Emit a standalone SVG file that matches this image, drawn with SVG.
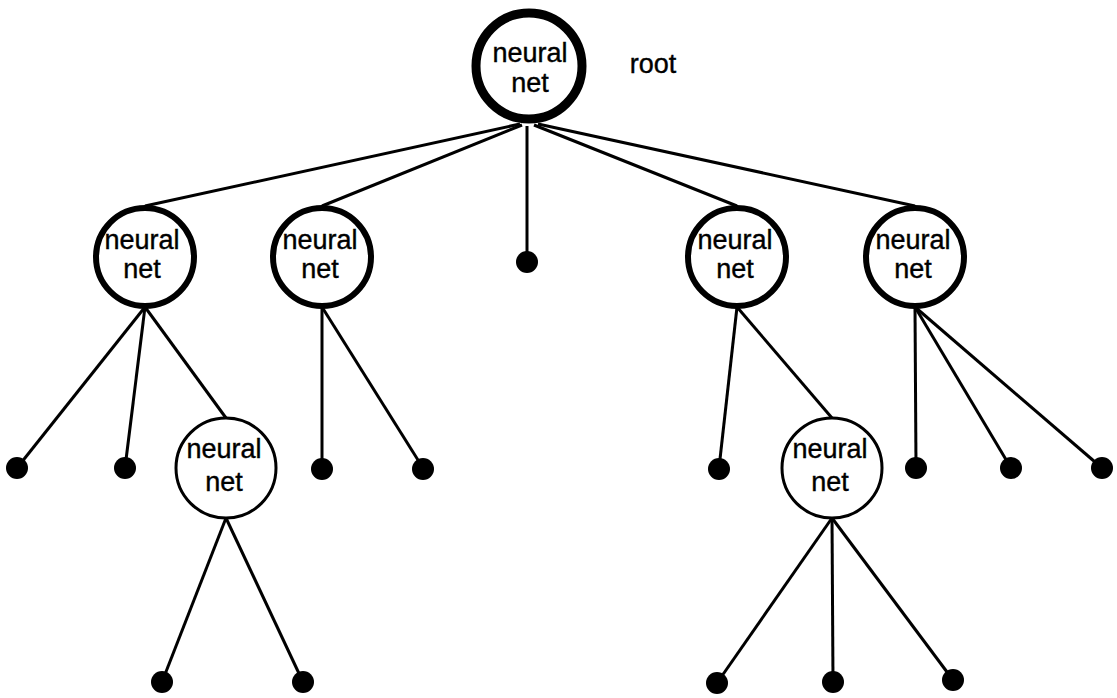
<svg xmlns="http://www.w3.org/2000/svg" width="1117" height="698" viewBox="0 0 1117 698">
  <style>
    .edge { stroke: #000; stroke-width: 3; fill: none; }
    .net { fill: #fff; stroke: #000; }
    .n0 { stroke-width: 9; }
    .n1 { stroke-width: 6; }
    .n2 { stroke-width: 3; }
    .leaf { fill: #000; }
    text { font-family: "Liberation Sans", Arial, sans-serif; font-size: 27px; fill: #000; stroke: #000; stroke-width: 0.4; text-anchor: middle; }
  </style>
  <rect width="1117" height="698" fill="#fff"/>
  <g id="connectors">
    <!-- root to children -->
    <line class="edge" x1="520" y1="124" x2="145" y2="206"/>
    <line class="edge" x1="522" y1="125" x2="322" y2="206"/>
    <line class="edge" x1="527" y1="126" x2="527" y2="262"/>
    <line class="edge" x1="534" y1="125" x2="737" y2="206"/>
    <line class="edge" x1="538" y1="124" x2="915" y2="206"/>
    <!-- first-level subtrees -->
    <line class="edge" x1="145" y1="307" x2="17" y2="468"/>
    <line class="edge" x1="145" y1="307" x2="125" y2="468"/>
    <line class="edge" x1="145" y1="307" x2="226" y2="418"/>
    <line class="edge" x1="322" y1="307" x2="322" y2="468"/>
    <line class="edge" x1="322" y1="307" x2="423" y2="468"/>
    <line class="edge" x1="737" y1="307" x2="719" y2="468"/>
    <line class="edge" x1="737" y1="307" x2="832" y2="418"/>
    <line class="edge" x1="915" y1="307" x2="916" y2="468"/>
    <line class="edge" x1="915" y1="307" x2="1011" y2="468"/>
    <line class="edge" x1="915" y1="307" x2="1102" y2="468"/>
    <!-- second-level subtrees -->
    <line class="edge" x1="226" y1="518" x2="162" y2="682"/>
    <line class="edge" x1="226" y1="518" x2="303" y2="682"/>
    <line class="edge" x1="832" y1="518" x2="717" y2="683"/>
    <line class="edge" x1="832" y1="518" x2="833" y2="682"/>
    <line class="edge" x1="832" y1="518" x2="953" y2="680"/>
  </g>
  <g id="root">
    <circle class="net n0" cx="529" cy="66" r="53"/>
    <text x="530" y="62">neural</text>
    <text x="530" y="92">net</text>
    <text x="653" y="73">root</text>
  </g>
  <g id="net-a">
    <circle class="net n1" cx="145" cy="257" r="49"/>
    <text x="142" y="249">neural</text>
    <text x="142" y="278">net</text>
  </g>
  <g id="net-b">
    <circle class="net n1" cx="322" cy="257" r="49"/>
    <text x="320" y="249">neural</text>
    <text x="320" y="278">net</text>
  </g>
  <g id="leaf-mid"><circle class="leaf" cx="527" cy="262" r="11"/></g>
  <g id="net-c">
    <circle class="net n1" cx="737" cy="257" r="49"/>
    <text x="735" y="249">neural</text>
    <text x="735" y="278">net</text>
  </g>
  <g id="net-d">
    <circle class="net n1" cx="915" cy="257" r="49"/>
    <text x="913" y="249">neural</text>
    <text x="913" y="278">net</text>
  </g>
  <g id="net-e">
    <circle class="net n2" cx="226" cy="468" r="50"/>
    <text x="224" y="458">neural</text>
    <text x="224" y="491">net</text>
  </g>
  <g id="net-f">
    <circle class="net n2" cx="832" cy="468" r="50"/>
    <text x="830" y="458">neural</text>
    <text x="830" y="491">net</text>
  </g>
  <g id="leaves">
    <circle class="leaf" cx="17" cy="468" r="11"/>
    <circle class="leaf" cx="125" cy="468" r="11"/>
    <circle class="leaf" cx="322" cy="469" r="11"/>
    <circle class="leaf" cx="423" cy="469" r="11"/>
    <circle class="leaf" cx="719" cy="469" r="11"/>
    <circle class="leaf" cx="916" cy="468" r="11"/>
    <circle class="leaf" cx="1011" cy="468" r="11"/>
    <circle class="leaf" cx="1102" cy="468" r="11"/>
    <circle class="leaf" cx="162" cy="682" r="11"/>
    <circle class="leaf" cx="303" cy="682" r="11"/>
    <circle class="leaf" cx="717" cy="683" r="11"/>
    <circle class="leaf" cx="833" cy="682" r="11"/>
    <circle class="leaf" cx="953" cy="680" r="11"/>
  </g>
</svg>
